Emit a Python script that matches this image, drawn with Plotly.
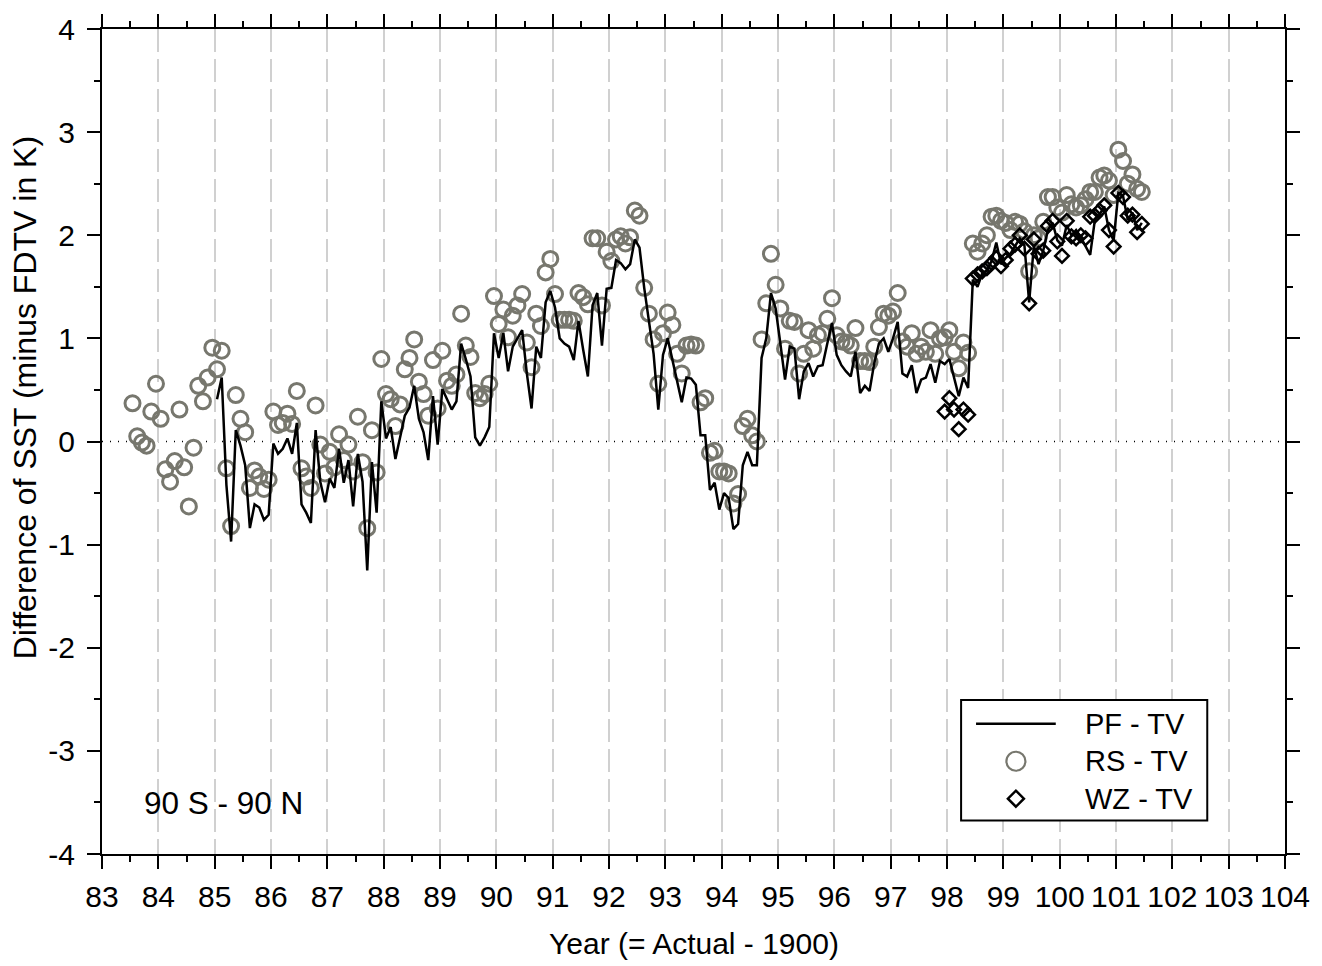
import plotly.graph_objects as go

# ---------------------------------------------------------------------------
# Monthly global-mean SST differences (K), 90S-90N, relative to TV
# Time axis is "year - 1900"; each value sits at mid-month.
# ---------------------------------------------------------------------------
RS_START = (83, 7)    # first RS month: July 1983
PF_START = (85, 1)    # first PF month: January 1985
WZ_START = (97, 12)   # first WZ month: December 1997

rs_tv = [
    0.37, 0.05, -0.01, -0.04, 0.29, 0.56, 0.22, -0.27, -0.39, -0.19,
    0.31, -0.25, -0.63, -0.06, 0.54, 0.39, 0.62, 0.91, 0.70, 0.88,
    -0.26, -0.82, 0.45, 0.22, 0.09, -0.45, -0.28, -0.34, -0.46, -0.37,
    0.29, 0.16, 0.18, 0.27, 0.17, 0.49, -0.26, -0.34, -0.45, 0.35,
    -0.03, -0.31, -0.10, -0.25, 0.07, -0.18, -0.03, -0.29, 0.24, -0.20,
    -0.84, 0.11, -0.30, 0.80, 0.46, 0.41, 0.15, 0.36, 0.70, 0.81,
    0.99, 0.58, 0.46, 0.25, 0.79, 0.32, 0.88, 0.59, 0.54, 0.65,
    1.24, 0.93, 0.82, 0.47, 0.42, 0.46, 0.56, 1.41, 1.14, 1.28,
    1.01, 1.22, 1.32, 1.43, 0.96, 0.72, 1.24, 1.12, 1.64, 1.77,
    1.43, 1.18, 1.18, 1.18, 1.17, 1.44, 1.40, 1.33, 1.97, 1.97,
    1.32, 1.84, 1.75, 1.96, 1.99, 1.92, 1.98, 2.24, 2.19, 1.49,
    1.24, 0.99, 0.56, 1.05, 1.25, 1.13, 0.85, 0.66, 0.93, 0.94,
    0.93, 0.38, 0.42, -0.11, -0.09, -0.29, -0.29, -0.31, -0.60, -0.51,
    0.15, 0.22, 0.06, 0.00, 0.99, 1.34, 1.82, 1.52, 1.29, 0.90,
    1.17, 1.16, 0.66, 0.85, 1.08, 0.90, 1.03, 1.05, 1.19, 1.39,
    1.03, 0.97, 0.96, 0.93, 1.10, 0.78, 0.78, 0.77, 0.92, 1.11,
    1.24, 1.22, 1.26, 1.44, 0.97, 0.92, 1.05, 0.85, 0.92, 0.87,
    1.08, 0.85, 1.00, 1.01, 1.08, 0.87, 0.71, 0.96, 0.86, 1.92,
    1.84, 1.92, 2.00, 2.18, 2.19, 2.14, 2.12, 2.05, 2.13, 2.11,
    2.04, 1.65, 2.00, 1.97, 2.13, 2.37, 2.37, 2.27, 2.22, 2.39,
    2.30, 2.27, 2.29, 2.35, 2.42, 2.42, 2.56, 2.58, 2.53, 2.39,
    2.83, 2.72, 2.50, 2.59, 2.45, 2.42,
]

pf_tv = [
    0.41, 0.62, -0.42, -0.97, 0.11, -0.04, -0.23, -0.84, -0.61, -0.64,
    -0.76, -0.71, -0.02, -0.12, -0.07, 0.03, -0.12, 0.18, -0.61, -0.69,
    -0.79, 0.11, -0.39, -0.59, -0.36, -0.45, -0.07, -0.40, -0.18, -0.63,
    -0.12, -0.39, -1.25, -0.20, -0.69, 0.39, 0.03, 0.14, -0.17, 0.03,
    0.25, 0.33, 0.54, 0.22, 0.09, -0.18, 0.44, -0.03, 0.51, 0.41,
    0.31, 0.39, 0.95, 0.80, 0.63, 0.04, -0.04, 0.04, 0.14, 1.05,
    0.81, 1.05, 0.68, 0.92, 1.00, 1.08, 0.66, 0.32, 0.92, 0.81,
    1.35, 1.46, 1.30, 1.00, 0.95, 0.92, 0.79, 1.17, 0.89, 0.63,
    1.32, 1.44, 0.93, 1.48, 1.49, 1.76, 1.73, 1.67, 1.72, 1.96,
    1.88, 1.49, 1.17, 0.85, 0.31, 0.84, 1.00, 0.80, 0.58, 0.38,
    0.62, 0.61, 0.55, 0.06, 0.06, -0.47, -0.40, -0.66, -0.50, -0.55,
    -0.85, -0.80, -0.23, -0.10, -0.23, -0.23, 0.81, 1.00, 1.44, 1.29,
    0.95, 0.60, 0.92, 0.90, 0.41, 0.68, 0.76, 0.63, 0.73, 0.74,
    0.95, 1.15, 0.84, 0.74, 0.68, 0.63, 0.87, 0.47, 0.54, 0.49,
    0.76, 0.95, 1.00, 0.87, 1.00, 1.16, 0.66, 0.63, 0.74, 0.47,
    0.60, 0.62, 0.75, 0.57, 0.78, 0.75, 0.80, 0.63, 0.44, 0.62,
    0.52, 1.57, 1.50, 1.63, 1.66, 1.75, 1.93, 1.72, 1.78, 1.82,
    1.90, 1.97, 1.90, 1.35, 1.90, 1.72, 1.85, 2.05, 2.12, 1.95,
    1.90, 2.10, 2.00, 2.05, 1.98, 1.90, 1.81, 2.15, 2.20, 2.28,
    2.05, 1.95, 2.41, 2.38, 2.15, 2.22, 2.05, 2.12,
]

wz_tv = [
    0.29, 0.42, 0.31, 0.12, 0.31, 0.26, 1.58, 1.62, 1.65, 1.68,
    1.73, 1.78, 1.70, 1.76, 1.87, 1.91, 2.00, 1.87, 1.34, 1.96,
    1.82, 1.85, 2.09, 2.14, 1.94, 1.80, 2.14, 1.99, 1.97, 2.00,
    1.97, 2.18, 2.19, 2.24, 2.29, 2.05, 1.89, 2.41, 2.37, 2.19,
    2.20, 2.03, 2.11,
]

X_TICKS = list(range(83, 105))
Y_TICKS = list(range(-4, 5))
REGION_LABEL = "90 S - 90 N"


def month_axis(start, n):
    """Mid-month positions (year - 1900) for n consecutive months."""
    year, month = start
    return [year + (month - 1 + k + 0.5) / 12.0 for k in range(n)]


rs_t = month_axis(RS_START, len(rs_tv))
pf_t = month_axis(PF_START, len(pf_tv))
wz_t = month_axis(WZ_START, len(wz_tv))

# ---------------------------------------------------------------------------
# Figure geometry and styling
# ---------------------------------------------------------------------------
W, H = 1322, 966
ML, MR, MT, MB = 102, 33, 18, 112
PW, PH = W - ML - MR, H - MT - MB
FONT = "Liberation Sans, Arial, Helvetica, sans-serif"
GREY = "#77776e"


def px_x(px):
    return (px - ML) / PW


def px_y(py):
    return (H - MB - py) / PH


fig = go.Figure()

fig.add_trace(go.Scatter(
    x=rs_t, y=rs_tv, mode="markers", name="RS - TV",
    marker=dict(symbol="circle-open", size=15, color=GREY,
                line=dict(width=3, color=GREY)),
    showlegend=False,
))
fig.add_trace(go.Scatter(
    x=pf_t, y=pf_tv, mode="lines", name="PF - TV",
    line=dict(color="black", width=2.5),
    showlegend=False,
))
fig.add_trace(go.Scatter(
    x=wz_t, y=wz_tv, mode="markers", name="WZ - TV",
    marker=dict(symbol="diamond-open", size=10.5, color="black",
                line=dict(width=2.5, color="black")),
    showlegend=False,
))

axis_common = dict(
    showline=True, linewidth=2, linecolor="black", mirror="allticks",
    ticks="outside", ticklen=13, tickwidth=2, tickcolor="black",
    zeroline=False, tickfont=dict(family=FONT, size=30, color="black"),
)

fig.update_xaxes(
    range=[83, 104], tickmode="array", tickvals=X_TICKS,
    ticktext=[str(v) for v in X_TICKS],
    showgrid=True, gridcolor="#d0d0d0", gridwidth=2, griddash="23px,7px",
    minor=dict(dtick=0.5, tick0=83, ticks="outside", ticklen=6,
               tickwidth=1.5, tickcolor="black", showgrid=False),
    ticklabelstandoff=2,
    **axis_common,
)
fig.update_yaxes(
    range=[-4, 4], tickmode="array", tickvals=Y_TICKS,
    ticktext=[str(v) for v in Y_TICKS],
    showgrid=False,
    minor=dict(dtick=0.5, tick0=-4, ticks="outside", ticklen=6,
               tickwidth=1.5, tickcolor="black", showgrid=False),
    ticklabelstandoff=6,
    **axis_common,
)

shapes = [
    # dotted zero reference line
    dict(type="line", xref="paper", x0=0, x1=1, yref="y", y0=0, y1=0,
         line=dict(color="black", width=1.3, dash="1px,7px"), layer="below"),
    # legend frame
    dict(type="rect", xref="paper", yref="paper",
         x0=px_x(964), x1=px_x(1211), y0=px_y(820), y1=px_y(698),
         line=dict(color="black", width=2), fillcolor="white", layer="above"),
    # legend line sample
    dict(type="line", xref="paper", yref="paper",
         x0=px_x(979), x1=px_x(1059), y0=px_y(722), y1=px_y(722),
         line=dict(color="black", width=2.5), layer="above"),
    # legend circle sample
    dict(type="circle", xref="paper", yref="paper",
         xsizemode="pixel", ysizemode="pixel",
         xanchor=px_x(1019), yanchor=px_y(760),
         x0=-9.5, x1=9.5, y0=-9.5, y1=9.5,
         line=dict(color=GREY, width=2.2), layer="above"),
    # legend diamond sample
    dict(type="path", xref="paper", yref="paper",
         xsizemode="pixel", ysizemode="pixel",
         xanchor=px_x(1019), yanchor=px_y(798),
         path="M0,-8 L8,0 L0,8 L-8,0 Z",
         line=dict(color="black", width=2.5), layer="above"),
]

annotations = [
    dict(text="PF - TV", x=px_x(1086), y=px_y(722)),
    dict(text="RS - TV", x=px_x(1086), y=px_y(760)),
    dict(text="WZ - TV", x=px_x(1086), y=px_y(798)),
]
annotations = [dict(a, xref="paper", yref="paper", xanchor="left",
                    yanchor="middle", showarrow=False,
                    font=dict(family=FONT, size=29, color="black"))
               for a in annotations]
annotations += [
    dict(text=REGION_LABEL, xref="paper", yref="paper",
         x=px_x(142), y=px_y(802), xanchor="left", yanchor="middle",
         showarrow=False, font=dict(family=FONT, size=31.5, color="black")),
    dict(text="Year (= Actual - 1900)", xref="paper", yref="paper",
         x=0.5, y=px_y(945), xanchor="center", yanchor="middle",
         showarrow=False, font=dict(family=FONT, size=30, color="black")),
    dict(text="Difference of SST (minus FDTV in K)", xref="paper",
         yref="paper", x=px_x(25), y=px_y(392), xanchor="center",
         yanchor="middle", textangle=-90, showarrow=False,
         font=dict(family=FONT, size=32, color="black")),
]

fig.update_layout(
    width=W, height=H,
    margin=dict(l=ML, r=MR, t=MT, b=MB, pad=0),
    paper_bgcolor="white", plot_bgcolor="white",
    showlegend=False,
    shapes=shapes, annotations=annotations,
    font=dict(family=FONT, color="black"),
)

fig.write_html("out.html")
